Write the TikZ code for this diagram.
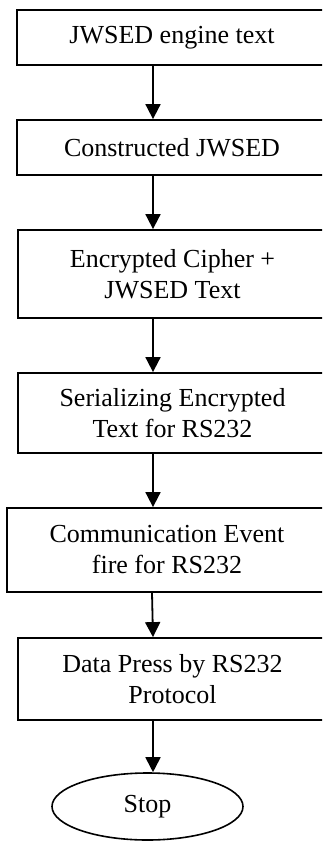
\documentclass[tikz,border=0pt]{standalone}
\usepackage{fontspec}
\setmainfont{Liberation Serif}
\usetikzlibrary{arrows.meta,shapes.geometric}
\begin{document}
\begin{tikzpicture}[x=1pt,y=-1pt,
  every node/.style={font=\fontsize{26}{31}\selectfont, align=center, inner sep=0pt},
  box/.style={draw, line width=1.8pt, rectangle},
  term/.style={draw, line width=1.6pt, ellipse},
  arr/.style={line width=1.8pt, -{Triangle[length=15pt,width=15pt]}}]
\useasboundingbox (0,0) rectangle (322,846);
\clip (0,0) rectangle (322,846);
\node[box, minimum width=310pt, minimum height=55pt] (b1) at (172,37.5) {JWSED engine text};
\node[box, minimum width=310pt, minimum height=55pt] (b2) at (172,147.5) {Constructed JWSED};
\node[box, minimum width=309pt, minimum height=88pt] (b3) at (172.5,274) {Encrypted Cipher +\\JWSED Text};
\node[box, minimum width=309pt, minimum height=80pt] (b4) at (172.5,413) {Serializing Encrypted\\Text for RS232};
\node[box, minimum width=320pt, minimum height=84pt] (b5) at (167,550) {Communication Event\\fire for RS232};
\node[box, minimum width=309pt, minimum height=82pt] (b6) at (172.5,679) {Data Press by RS232\\Protocol};
\node[term, minimum width=191pt, minimum height=67pt] (st) at (147.5,806.5) {Stop};
\coordinate (ax) at (153,0);
\coordinate (ay) at (152,0);
\draw[arr] (b1.south -| ax) -- (b2.north -| ax);
\draw[arr] (b2.south -| ax) -- (b3.north -| ax);
\draw[arr] (b3.south -| ax) -- (b4.north -| ax);
\draw[arr] (b4.south -| ax) -- (b5.north -| ax);
\draw[arr] (b5.south -| ay) -- (b6.north -| ax);
\draw[arr] (b6.south -| ax) -- (st.north -| ax);
\end{tikzpicture}
\end{document}
